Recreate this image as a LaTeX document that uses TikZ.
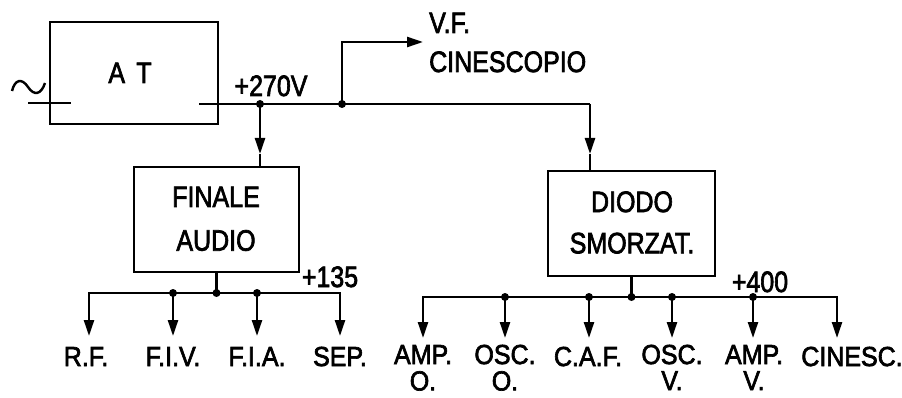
\documentclass[tikz,border=0pt]{standalone}
\usepackage{fontspec}
\setmainfont{Liberation Sans}[FakeBold=2.5]
\usetikzlibrary{arrows.meta}
\newcommand\T[2][19.5pt]{\scalebox{1}[1.18]{\fontsize{25pt}{#1}\selectfont\begin{tabular}[t]{@{}c@{}}#2\end{tabular}}}
\newcommand\TB[1]{\scalebox{1}[1.1]{\fontsize{25pt}{21.8pt}\selectfont\begin{tabular}[t]{@{}c@{}}#1\end{tabular}}}
\begin{document}
\begin{tikzpicture}[x=1pt,y=-1pt,line width=2.4pt,
  arr/.style={-{Triangle[length=16pt,width=10pt]}},
  blk/.style={draw,inner sep=0pt,line width=2.4pt},
  txt/.style={inner sep=0pt,anchor=base},
  dot/.style={circle,fill,inner sep=0pt,minimum size=8pt}]
\useasboundingbox (0,0) rectangle (902,398);
\fill[white] (0,0) rectangle (902,398);

% blocks
\node[blk,minimum width=168pt,minimum height=102pt] (at) at (134,73) {};
\node[blk,minimum width=165pt,minimum height=105pt] (finale) at (216.5,219.5) {};
\node[blk,minimum width=167pt,minimum height=105pt] (diodo) at (631.5,223.5) {};

% block texts
\node[txt] (tat) at (130,83) {\T{A\hspace{0.45em}T}};
\node[txt] (tfin) at (216,207) {\T[37pt]{FINALE\\AUDIO}};
\node[txt] (tdio) at (632,212) {\T[35pt]{DIODO\\SMORZAT.}};

% mains input
\draw (12,91) .. controls (15,79) and (22,78) .. (28,87) .. controls (34,96) and (41,95) .. (45,83);
\coordinate (inL) at (28,103);
\coordinate (inR) at (71,103);
\draw (inL) -- (inR);

% +270 V line
\coordinate (outS) at (199,104);
\coordinate (j1) at (260,104);
\coordinate (j2) at (342,104);
\coordinate (cD) at (590,104);
\coordinate (aF) at (260,154);
\coordinate (aD) at (590,154);
\coordinate (vUp) at (342,42);
\coordinate (vTip) at (423,42);
\draw (outS) -- (cD);
\draw[arr] (j1) -- (aF);
\draw (aF) -- (j1 |- finale.north);
\draw[arr] (cD) -- (aD);
\draw (aD) -- (cD |- diodo.north);
\draw[arr] (j2) -- (vUp) -- (vTip);
\node[dot] (d1) at (j1) {};
\node[dot] (d2) at (j2) {};
\node[txt] (l270) at (271,96) {\T{+270V}};
\node[txt,anchor=base west] (lvf) at (428,33) {\T{V.F.}};
\node[txt,anchor=base west] (lcin) at (428,72) {\T{CINESCOPIO}};

% FINALE AUDIO distribution (+135)
\coordinate (fb) at (216.5,293);
\coordinate (bL1) at (89,293);
\coordinate (bL2) at (173,293);
\coordinate (bL3) at (257,293);
\coordinate (bL4) at (340,293);
\draw (finale.south) -- (fb);
\draw[arr] (fb) -- (bL1) -- (89,336);
\draw[arr] (fb) -- (bL4) -- (340,336);
\draw[arr] (bL2) -- (173,336);
\draw[arr] (bL3) -- (257,336);
\node[dot] (d3) at (bL2) {};
\node[dot] (d4) at (fb) {};
\node[dot] (d5) at (bL3) {};
\node[txt] (l135) at (330,287) {\T{+135}};
\node[txt] (lrf) at (86,366) {\TB{R.F.}};
\node[txt] (lfiv) at (173,366) {\TB{F.I.V.}};
\node[txt] (lfia) at (257,366) {\TB{F.I.A.}};
\node[txt] (lsep) at (340,366) {\TB{SEP.}};

% DIODO SMORZAT. distribution (+400)
\coordinate (db) at (631.5,297);
\coordinate (bR1) at (423,297);
\coordinate (bR2) at (505,297);
\coordinate (bR3) at (589,297);
\coordinate (bR4) at (672,297);
\coordinate (bR5) at (753,297);
\coordinate (bR6) at (837,297);
\draw (diodo.south) -- (db);
\draw[arr] (db) -- (bR1) -- (423,338);
\draw[arr] (db) -- (bR6) -- (837,338);
\draw[arr] (bR2) -- (505,338);
\draw[arr] (bR3) -- (589,338);
\draw[arr] (bR4) -- (672,338);
\draw[arr] (bR5) -- (753,338);
\node[dot] (d6) at (bR2) {};
\node[dot] (d7) at (bR3) {};
\node[dot] (d8) at (db) {};
\node[dot] (d9) at (bR4) {};
\node[dot] (d10) at (bR5) {};
\node[txt] (l400) at (760,292) {\T{+400}};
\node[txt] (lampo) at (423,364) {\TB{AMP.\\O.}};
\node[txt] (losco) at (505,364) {\TB{OSC.\\O.}};
\node[txt] (lcaf) at (588,366) {\TB{C.A.F.}};
\node[txt] (loscv) at (672,364) {\TB{OSC.\\V.}};
\node[txt] (lampv) at (754,364) {\TB{AMP.\\V.}};
\node[txt] (lcinesc) at (852,366) {\TB{CINESC.}};
\end{tikzpicture}
\end{document}
